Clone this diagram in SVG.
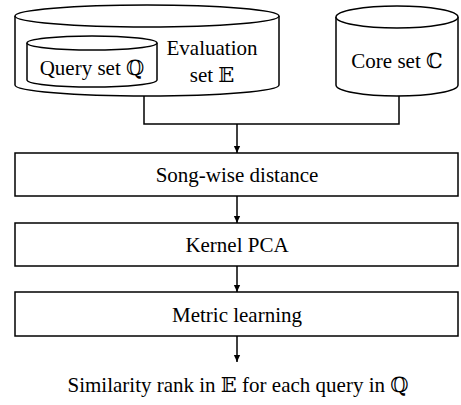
<svg xmlns="http://www.w3.org/2000/svg" width="461" height="405" viewBox="0 0 461 405">
<style>
.s{fill:#fff;stroke:#000;stroke-width:1.5}
.n{fill:none;stroke:#000;stroke-width:1.5}
.t{font-family:"Liberation Serif","DejaVu Serif",serif;font-size:21px;fill:#000;text-anchor:middle}
</style>
<defs>
<marker id="h" markerWidth="8" markerHeight="10" refX="9" refY="4" orient="auto" markerUnits="userSpaceOnUse" viewBox="0 0 10 8">
<path d="M0,0 L9,4 L0,8 Z" fill="#000"/>
</marker>
</defs>
<g id="evaluation">
<path class="s" d="M15,16 V85 A132,11 0 0 0 279,85 V16"/>
<ellipse class="s" cx="147" cy="16" rx="132" ry="11"/>
<text class="t" x="212" y="55">Evaluation</text>
<text class="t" x="212" y="82">set 𝔼</text>
</g>
<g id="query">
<path class="s" d="M27,43 V80 A65,7 0 0 0 157,80 V43"/>
<ellipse class="s" cx="92" cy="43" rx="65" ry="7"/>
<text class="t" x="92" y="75">Query set ℚ</text>
</g>
<g id="core">
<path class="s" d="M336,17 V85 A61,11 0 0 0 458,85 V17"/>
<ellipse class="s" cx="397" cy="17" rx="61" ry="11"/>
<text class="t" x="397" y="68">Core set ℂ</text>
</g>
<g id="songwise">
<rect class="s" x="15" y="153" width="443" height="43"/>
<text class="t" x="237" y="182">Song-wise distance</text>
</g>
<g id="kpca">
<rect class="s" x="15" y="223" width="443" height="43"/>
<text class="t" x="237" y="252">Kernel PCA</text>
</g>
<g id="metric">
<rect class="s" x="15" y="292" width="443" height="44"/>
<text class="t" x="237" y="322">Metric learning</text>
</g>
<g id="output">
<text class="t" x="238" y="392">Similarity rank in 𝔼 for each query in ℚ</text>
</g>
<g id="connectors">
<path class="n" d="M144,96 V124 H399 V96"/>
<path class="n" d="M237,124 V153" marker-end="url(#h)"/>
<path class="n" d="M237,196 V223" marker-end="url(#h)"/>
<path class="n" d="M237,266 V292" marker-end="url(#h)"/>
<path class="n" d="M237,336 V362" marker-end="url(#h)"/>
</g>
</svg>
